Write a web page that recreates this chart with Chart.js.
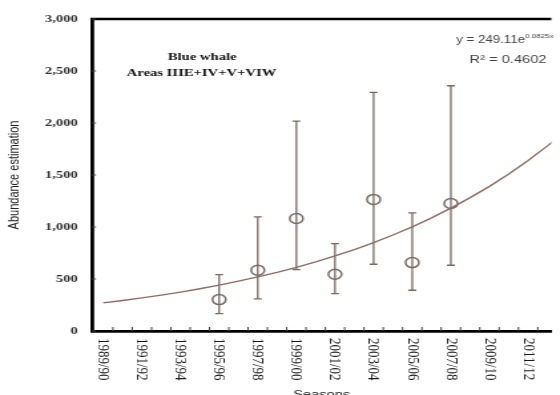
<!DOCTYPE html>
<html>
<head>
<meta charset="utf-8">
<script src="https://cdn.jsdelivr.net/npm/chart.js@4.4.0/dist/chart.umd.min.js"></script>
<style>
  html, body { margin:0; padding:0; background:#fff; overflow:hidden; }
  #wrap { width:560px; height:395px; overflow:hidden; }
  /* the source figure is stretched sideways, so the canvas is too */
  #c { display:block; transform:scaleX(1.33); transform-origin:0 0; }
</style>
</head>
<body>
<div id="wrap"><canvas id="c" width="421" height="395"></canvas></div>
<script>
const seasons = ['1989/90','1990/91','1991/92','1992/93','1993/94','1994/95','1995/96','1996/97',
  '1997/98','1998/99','1999/00','2000/01','2001/02','2002/03','2003/04','2004/05','2005/06',
  '2006/07','2007/08','2008/09','2009/10','2010/11','2011/12','2012/13','2013/14'];
const trendValues = [270, 293, 318, 345, 374, 406, 441, 479, 520, 564, 612, 665, 722, 783,
  850, 923, 1002, 1088, 1181, 1282, 1391, 1510, 1640, 1780, 1930];

const surveySeasons = ['1995/96','1997/98','1999/00','2001/02','2003/04','2005/06','2007/08'];
const abundance = [302, 584, 1082, 546, 1265, 658, 1226];
const ciLower = [167, 308, 591, 360, 642, 392, 632];
const ciUpper = [543, 1097, 2018, 841, 2295, 1136, 2358];

const yTicks = [0, 500, 1000, 1500, 2000, 2500, 3000];
const titleLines = ['Blue whale', 'Areas IIIE+IV+V+VIW'];
const eqText = 'y = 249.11e';
const eqExp = '0.0825x';
const r2Text = 'R\u00b2 = 0.4602';

const markColor = '#7a6a64';
const lineColor = '#8a6e66';

const trendData = trendValues.map((v, i) => ({ x: i, y: v }));
const surveyData = surveySeasons.map((s, i) => ({ x: seasons.indexOf(s), y: abundance[i] }));

const extras = {
  id: 'extras',
  beforeDatasetsDraw(chart) {
    const { ctx, scales: { x, y } } = chart;
    ctx.save();
    ctx.strokeStyle = markColor;
    ctx.lineWidth = 1.3;
    surveyData.forEach((p, i) => {
      const px = x.getPixelForValue(p.x);
      const top = y.getPixelForValue(ciUpper[i]);
      const bot = y.getPixelForValue(ciLower[i]);
      ctx.beginPath();
      ctx.moveTo(px, top); ctx.lineTo(px, bot);
      ctx.moveTo(px - 3, top); ctx.lineTo(px + 3, top);
      ctx.moveTo(px - 3, bot); ctx.lineTo(px + 3, bot);
      ctx.stroke();
    });
    ctx.restore();
  },
  afterDraw(chart) {
    const { ctx, chartArea: a, scales: { x, y } } = chart;
    ctx.save();
    // top frame line
    ctx.strokeStyle = '#000';
    ctx.lineWidth = 2.5;
    ctx.beginPath();
    ctx.moveTo(a.left - 1.25, a.top); ctx.lineTo(a.right, a.top);
    ctx.stroke();

    // inside tick marks
    ctx.lineWidth = 1;
    ctx.strokeStyle = '#444';
    ctx.beginPath();
    yTicks.forEach(v => {
      const py = y.getPixelForValue(v);
      ctx.moveTo(a.left, py); ctx.lineTo(a.left + 3, py);
    });
    for (let i = 0; i < seasons.length - 1; i++) {
      const px = x.getPixelForValue(i + 0.5);
      if (px > a.right) break;
      ctx.moveTo(px, a.bottom); ctx.lineTo(px, a.bottom - 4);
    }
    ctx.stroke();

    // season labels, every other one, rotated clockwise
    ctx.fillStyle = '#1a1a1a';
    ctx.font = '13px "Liberation Serif", serif';
    ctx.textAlign = 'left';
    ctx.textBaseline = 'middle';
    seasons.forEach((s, i) => {
      if (i % 2 || i > 22) return;
      const px = x.getPixelForValue(i);
      ctx.save();
      ctx.translate(px, a.bottom + 7);
      ctx.rotate(Math.PI / 2);
      ctx.fillText(s, 0, 0);
      ctx.restore();
    });

    // chart title
    ctx.fillStyle = '#111';
    ctx.font = 'bold 11px "Liberation Serif", serif';
    ctx.textAlign = 'center';
    ctx.fillText(titleLines[0], 152, 57);
    ctx.fillText(titleLines[1], 151.5, 73);

    // trend equation
    ctx.fillStyle = '#444';
    ctx.font = '10px "Liberation Sans", Arial, sans-serif';
    ctx.textAlign = 'left';
    ctx.fillText(eqText, 343, 40);
    const w = ctx.measureText(eqText).width;
    ctx.font = '6px "Liberation Sans", Arial, sans-serif';
    ctx.fillText(eqExp, 343 + w, 36);
    ctx.font = '11px "Liberation Sans", Arial, sans-serif';
    ctx.textAlign = 'center';
    ctx.fillText(r2Text, 382, 60);
    ctx.restore();
  }
};

new Chart(document.getElementById('c'), {
  type: 'scatter',
  data: {
    datasets: [
      { data: trendData, showLine: true, borderColor: lineColor, borderWidth: 1.4,
        pointRadius: 0, fill: false },
      { data: surveyData, pointStyle: 'circle', pointRadius: 5, borderWidth: 1.5,
        borderColor: markColor, backgroundColor: 'rgba(0,0,0,0)' }
    ]
  },
  options: {
    responsive: false,
    animation: false,
    devicePixelRatio: 1,
    layout: { padding: { top: 19, right: 0, bottom: 0, left: 0 } },
    plugins: { legend: { display: false }, tooltip: { enabled: false } },
    scales: {
      x: {
        type: 'linear', min: -0.58, max: 23.2,
        grid: { display: false, drawTicks: false },
        border: { color: '#000', width: 2.8 },
        ticks: { display: false },
        title: { display: true, text: 'Seasons', color: '#222',
          font: { family: '"Liberation Sans", Arial, sans-serif', size: 11 },
          padding: { top: 0, bottom: -7 } },
        afterFit(s) { s.height = 64; }
      },
      y: {
        min: 0, max: 3000,
        grid: { display: false, drawTicks: false },
        border: { color: '#000', width: 2.8 },
        ticks: { stepSize: 500, padding: 10.6, color: '#333',
          font: { family: '"Liberation Serif", serif', size: 11, weight: 'bold' },
          callback: v => v.toLocaleString('en-US') },
        title: { display: true, text: 'Abundance estimation', color: '#222',
          font: { family: '"Liberation Sans", Arial, sans-serif', size: 11 },
          padding: { top: 4.7, bottom: 0 } },
        afterFit(s) { s.width = 69.2; }
      }
    }
  },
  plugins: [extras]
});
</script>
</body>
</html>
